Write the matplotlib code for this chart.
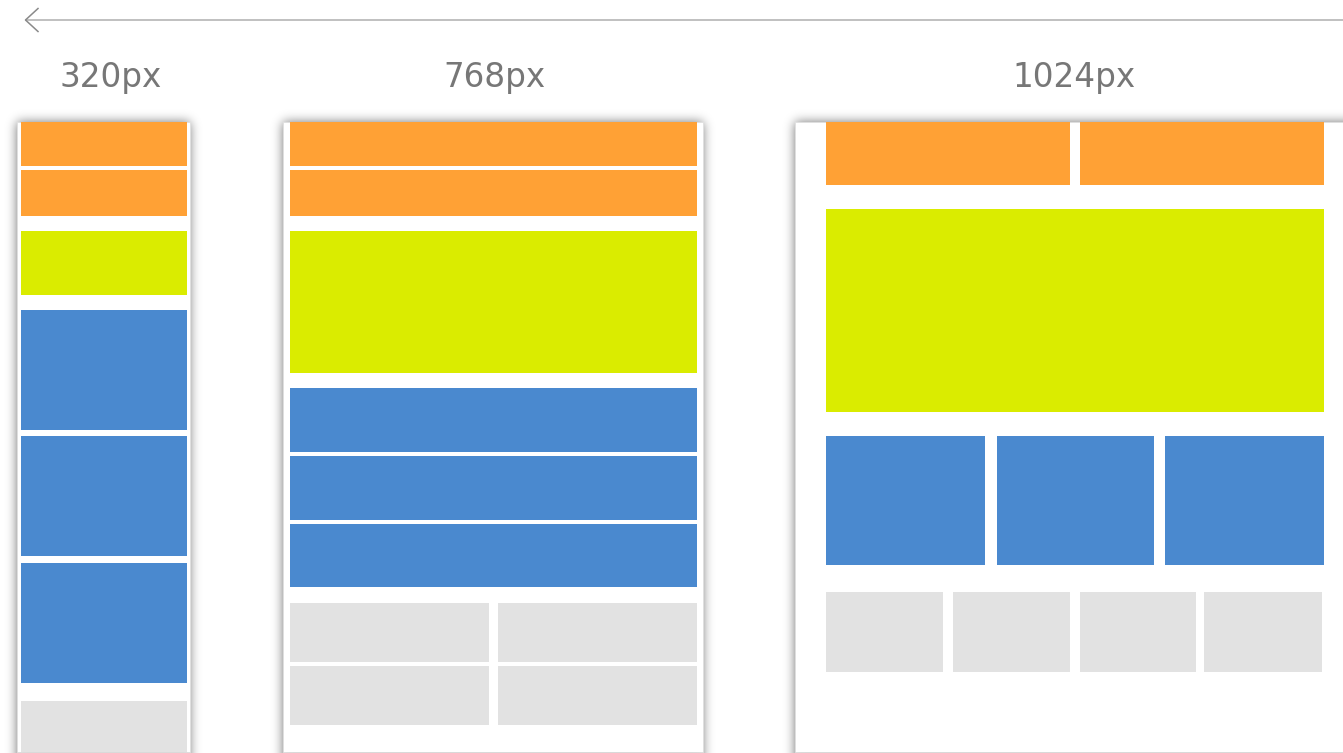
import numpy as np
import matplotlib
matplotlib.use("Agg")
import matplotlib.pyplot as plt
from matplotlib.patches import Rectangle

W, H = 1343, 753

# ---- data: breakpoint labels and layout blocks (pixel boxes x0, y0, x1, y1, kind)
labels = ["320px", "768px", "1024px"]
label_x = [111, 494, 1074]

panels = [(17, 122, 190, 751.5), (283, 122, 703, 751.5), (795, 122, 1360, 751.5)]

colors = {"header": "#FFA135", "hero": "#DAEC00", "content": "#4A89CF", "footer": "#E2E2E2"}

blocks_320 = [
    (20.5, 122, 187, 166, "header"), (20.5, 170, 187, 216, "header"),
    (20.5, 231, 187, 295, "hero"),
    (20.5, 310, 187, 430, "content"), (20.5, 436, 187, 556, "content"), (20.5, 563, 187, 683, "content"),
    (20.5, 701, 187, 751.5, "footer"),
]
blocks_768 = [
    (289.5, 122, 697, 166, "header"), (289.5, 170, 697, 216, "header"),
    (289.5, 231, 697, 373, "hero"),
    (289.5, 388, 697, 452, "content"), (289.5, 456, 697, 520, "content"), (289.5, 524, 697, 587, "content"),
    (289.5, 603, 488.5, 662, "footer"), (497.5, 603, 697, 662, "footer"),
    (289.5, 666, 488.5, 725, "footer"), (497.5, 666, 697, 725, "footer"),
]
blocks_1024 = [
    (826, 122, 1070, 185, "header"), (1080, 122, 1324, 185, "header"),
    (826, 209, 1324, 412, "hero"),
    (826, 436, 985, 565, "content"), (997, 436, 1154, 565, "content"), (1165, 436, 1324, 565, "content"),
    (826, 592, 943, 672, "footer"), (953, 592, 1070, 672, "footer"),
    (1080, 592, 1196, 672, "footer"), (1204, 592, 1322, 672, "footer"),
]

fig = plt.figure(figsize=(W / 100, H / 100), dpi=100)
ax = fig.add_axes([0, 0, 1, 1])
ax.set_xlim(0, W)
ax.set_ylim(H, 0)
ax.axis("off")

# ---- soft shadow under the panels
mask = np.zeros((H, W))
for (x0, y0, x1, y1) in panels:
    mask[int(y0):int(min(y1 + 2, H)), int(x0):int(min(x1, W))] = 1.0
sigma = 5.5
r = np.arange(-18, 19)
k = np.exp(-r ** 2 / (2 * sigma ** 2))
k /= k.sum()
pad = 24
m = np.pad(mask, pad, mode="edge")
m[:, :pad] = 0
m[:pad, :] = 0
m = np.apply_along_axis(lambda v: np.convolve(v, k, mode="same"), 1, m)
m = np.apply_along_axis(lambda v: np.convolve(v, k, mode="same"), 0, m)
blur = m[pad:-pad, pad:-pad]
rgba = np.zeros((H, W, 4))
rgba[..., 3] = np.clip(blur * 0.55, 0, 1)
ax.imshow(rgba, extent=(0, W, H, 0), interpolation="bilinear", zorder=1)

for (x0, y0, x1, y1) in panels:
    ax.add_patch(Rectangle((x0, y0), x1 - x0, y1 - y0, facecolor="white",
                           edgecolor="#E0E0E0", lw=0.6, zorder=2))

for blocks in (blocks_320, blocks_768, blocks_1024):
    for (x0, y0, x1, y1, kind) in blocks:
        ax.add_patch(Rectangle((x0, y0), x1 - x0, y1 - y0, facecolor=colors[kind],
                               edgecolor="none", zorder=3))

# ---- labels
for lx, lab in zip(label_x, labels):
    ax.text(lx, 87, lab, ha="center", va="baseline", fontsize=23.5,
            color="#777777", family="DejaVu Sans", zorder=4)

# ---- arrow at the top
ax.plot([25, W], [20, 20], color="#BBBBBB", lw=1.3, solid_capstyle="butt", zorder=4)
ax.plot([38, 25.5, 38], [8.5, 20, 31.5], color="#8A8A8A", lw=1.1, zorder=5)

fig.savefig("out.png", dpi=100, facecolor="white")
